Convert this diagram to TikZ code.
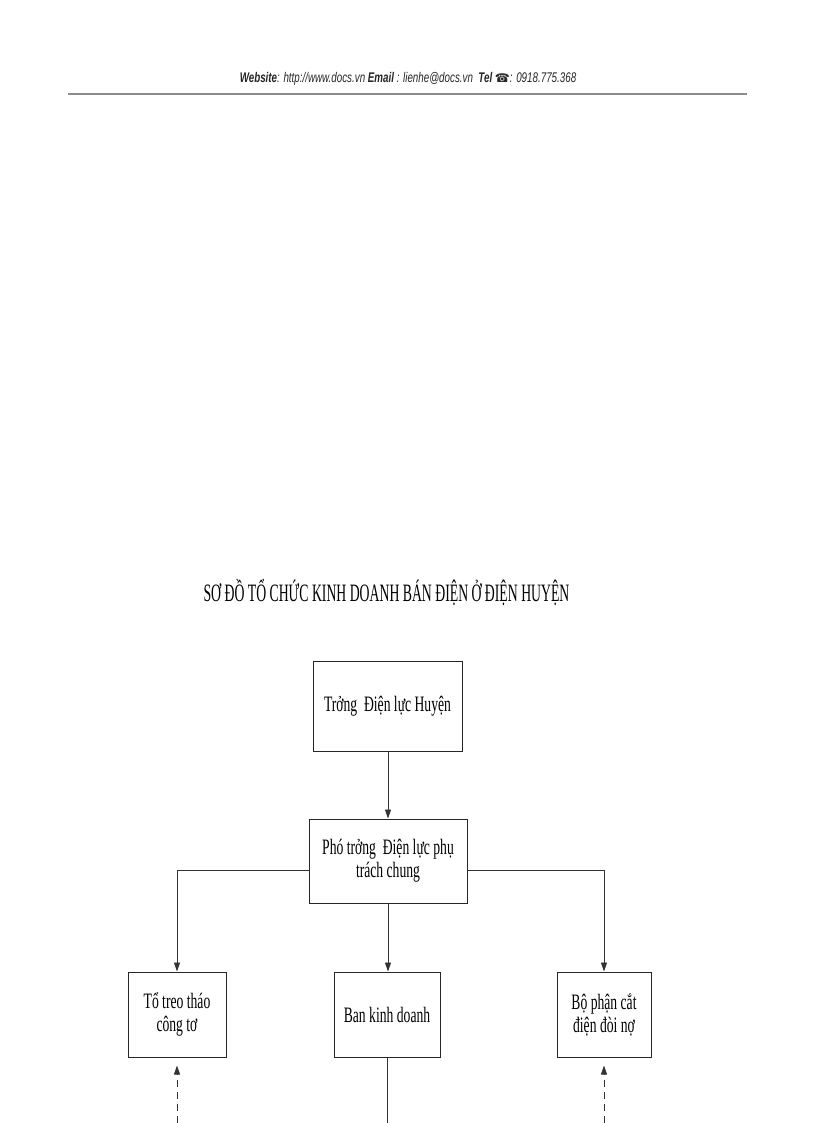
\documentclass[tikz,border=0pt]{standalone}
\usepackage{fontspec}
\setmainfont{Liberation Serif}
\newfontfamily\condfont[FakeStretch=0.62]{Liberation Serif}
\newfontfamily\titlefont[FakeStretch=0.55]{Liberation Serif}
\newfontfamily\headfont[FakeStretch=0.70]{Liberation Sans}
\newfontfamily\symfont{DejaVu Sans}
\usetikzlibrary{arrows.meta}
\begin{document}
\begin{tikzpicture}[x=1pt,y=-1pt,
  box/.style={draw=black!85,line width=1pt,fill=white,inner sep=2pt,align=center,
    font=\condfont\fontsize{22}{23}\selectfont,text=black},
  link/.style={draw=black!80,line width=0.9pt},
  arr/.style={link,-{Triangle[width=6pt,length=9pt]}},
  darr/.style={arr,dash pattern=on 7pt off 5pt}]
\useasboundingbox (0,0) rectangle (816,1123);
% header
\node[font=\headfont\itshape\fontsize{14}{16}\selectfont,text=black!85] (hdr) at (408,79)
  {\textbf{Website}: http://www.docs.vn \textbf{Email} : lienhe@docs.vn \ \textbf{Tel} {\symfont\upshape\fontsize{12}{14}\selectfont ☎}: 0918.775.368};
\coordinate (hl) at (68,94);
\coordinate (hr) at (747,94);
\draw[draw=black!45,line width=1.5pt] (hl) -- (hr);
% title
\node[font=\titlefont\fontsize{25}{28}\selectfont] (title) at (386.5,592)
  {SƠ ĐỒ TỔ CHỨC KINH DOANH BÁN ĐIỆN Ở ĐIỆN HUYỆN};
% boxes
\node[box,minimum width=149pt,minimum height=90pt] (b1) at (387.5,706) {Trởng \ Điện lực Huyện};
\node[box,minimum width=158pt,minimum height=84pt] (b2) at (388,861) {Phó trởng \ Điện lực phụ\\trách chung};
\node[box,minimum width=98pt,minimum height=85pt] (b3) at (177,1014.5) {Tổ treo tháo\\công tơ};
\node[box,minimum width=106pt,minimum height=85pt] (b4) at (387,1014.5) {Ban kinh doanh};
\node[box,minimum width=94pt,minimum height=85pt] (b5) at (604,1014.5) {Bộ phận cắt\\điện đòi nợ};
% connectors
\coordinate (hy) at (0,870);
\draw[arr] (b1.south -| b2.north) -- (b2.north);
\draw[arr] (b2.west |- hy) -| (b3.north);
\draw[arr] (b2.east |- hy) -| (b5.north);
\draw[arr] (b2.south) -- (b2.south |- b4.north);
\coordinate (e3) at (177,1123);
\coordinate (e4) at (387,1123);
\coordinate (e5) at (604,1123);
\draw[darr,shorten >=8pt] (e3) -- (b3.south);
\draw[darr,shorten >=8pt] (e5) -- (b5.south);
\draw[link] (b4.south) -- (e4);
\end{tikzpicture}
\end{document}
